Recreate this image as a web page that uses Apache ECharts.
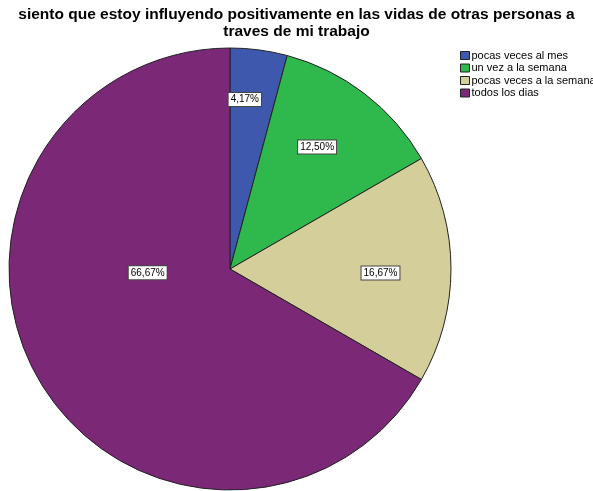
<!DOCTYPE html>
<html>
<head>
<meta charset="utf-8">
<script src="https://cdn.jsdelivr.net/npm/echarts@6/dist/echarts.min.js"></script>
<style>
html, body { margin: 0; padding: 0; background: #fff; }
#map { width: 593px; height: 491px; }
</style>
</head>
<body>
<div id="map"></div>
<script>
// datos del gráfico
var categorias = ['pocas veces al mes', 'un vez a la semana', 'pocas veces a la semana', 'todos los dias'];
var frecuencias = [1, 3, 4, 16];
var etiquetas = ['4,17%', '12,50%', '16,67%', '66,67%'];
var colores = ['#3e58ad', '#2fb84b', '#d4cf9a', '#7b2877'];
var desplazamientos = [[0, -57], [18, -32], [37, 4], [16, -53]];

var myChart = echarts.init(document.getElementById('map'));

var datos = [];
for (var i = 0; i < categorias.length; i++) {
	datos.push({
		name: categorias[i],
		value: frecuencias[i],
		itemStyle: { color: colores[i] },
		label: { offset: desplazamientos[i] }
	});
}

var option = {
	animation: false,
	title: {
		text: 'siento que estoy influyendo positivamente en las vidas de otras personas a\ntraves de mi trabajo',
		left: 'center',
		top: 1,
		textStyle: {
			fontFamily: 'Liberation Sans',
			fontSize: 15.5,
			fontWeight: 'bold',
			color: '#000',
			lineHeight: 17
		}
	},
	legend: {
		orient: 'vertical',
		left: 455,
		top: 45,
		itemWidth: 9,
		itemHeight: 8,
		itemGap: 1.5,
		icon: 'rect',
		itemStyle: { borderColor: '#222', borderWidth: 1 },
		textStyle: {
			fontFamily: 'Liberation Sans',
			fontSize: 11,
			color: '#000',
			padding: [0, 0, 0, -3]
		},
		data: categorias
	},
	series: [{
		type: 'pie',
		center: [230, 269],
		radius: 221,
		startAngle: 90,
		clockwise: true,
		data: datos,
		itemStyle: { borderColor: '#222', borderWidth: 1 },
		label: {
			position: 'inside',
			formatter: function (p) { return etiquetas[p.dataIndex]; },
			fontFamily: 'Liberation Sans',
			fontSize: 10,
			color: '#000',
			backgroundColor: '#fff',
			borderColor: '#444',
			borderWidth: 1,
			padding: [2, 2, 1, 2]
		},
		labelLine: { show: false },
		emphasis: { disabled: true }
	}]
};

myChart.setOption(option);
</script>
</body>
</html>
